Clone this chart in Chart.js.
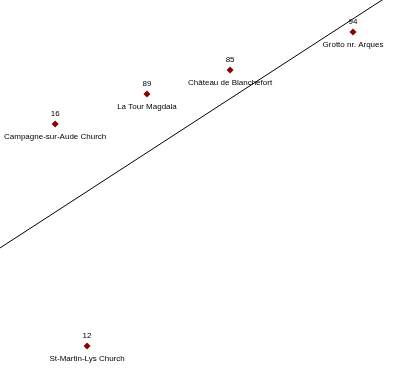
<!DOCTYPE html>
<html>
<head>
<meta charset="utf-8">
<script src="https://cdn.jsdelivr.net/npm/chart.js@4/dist/chart.umd.min.js"></script>
<style>
  html, body { margin: 0; padding: 0; background: #fff; }
  #chart { display: block; }
</style>
</head>
<body>
<canvas id="chart" width="394" height="369"></canvas>
<script>
const sites = ['Campagne-sur-Aude Church', 'La Tour Magdala', 'Château de Blanchefort', 'Grotto nr. Arques', 'St-Martin-Lys Church'];
const siteX = [14.0, 37.3, 58.4, 89.6, 22.1];
const siteY = [66.4, 74.5, 81.0, 91.3, 6.2];
const siteScore = [16, 89, 85, 94, 12];

// straight line across the plot
const lineX = [0, 100];
const lineY = [32.8, 102.1];

const ctx = document.getElementById('chart').getContext('2d');

// draws the score above and the name below each point
const pointLabels = {
  id: 'pointLabels',
  afterDatasetsDraw(chart) {
    const meta = chart.getDatasetMeta(1);
    const c = chart.ctx;
    c.save();
    c.font = '8px "Liberation Sans", Arial, sans-serif';
    c.fillStyle = '#000';
    c.textAlign = 'center';
    c.textBaseline = 'middle';
    meta.data.forEach((pt, i) => {
      c.fillText(String(siteScore[i]), pt.x, pt.y - 10.5);
      c.fillText(sites[i], pt.x, pt.y + 13);
    });
    c.restore();
  }
};

new Chart(ctx, {
  type: 'scatter',
  data: {
    datasets: [
      {
        label: 'line',
        data: lineX.map((x, i) => ({ x: x, y: lineY[i] })),
        showLine: true,
        borderColor: '#000',
        borderWidth: 1,
        pointRadius: 0,
        fill: false
      },
      {
        label: 'sites',
        data: siteX.map((x, i) => ({ x: x, y: siteY[i] })),
        pointStyle: 'rectRot',
        pointRadius: 3.5,
        backgroundColor: '#8b0000',
        borderColor: '#8b0000',
        borderWidth: 0
      }
    ]
  },
  options: {
    responsive: false,
    animation: false,
    layout: { padding: 0, autoPadding: false },
    plugins: { legend: { display: false }, tooltip: { enabled: false } },
    scales: {
      x: { type: 'linear', min: 0, max: 100, display: false },
      y: { type: 'linear', min: 0, max: 100, display: false }
    }
  },
  plugins: [pointLabels]
});
</script>
</body>
</html>
